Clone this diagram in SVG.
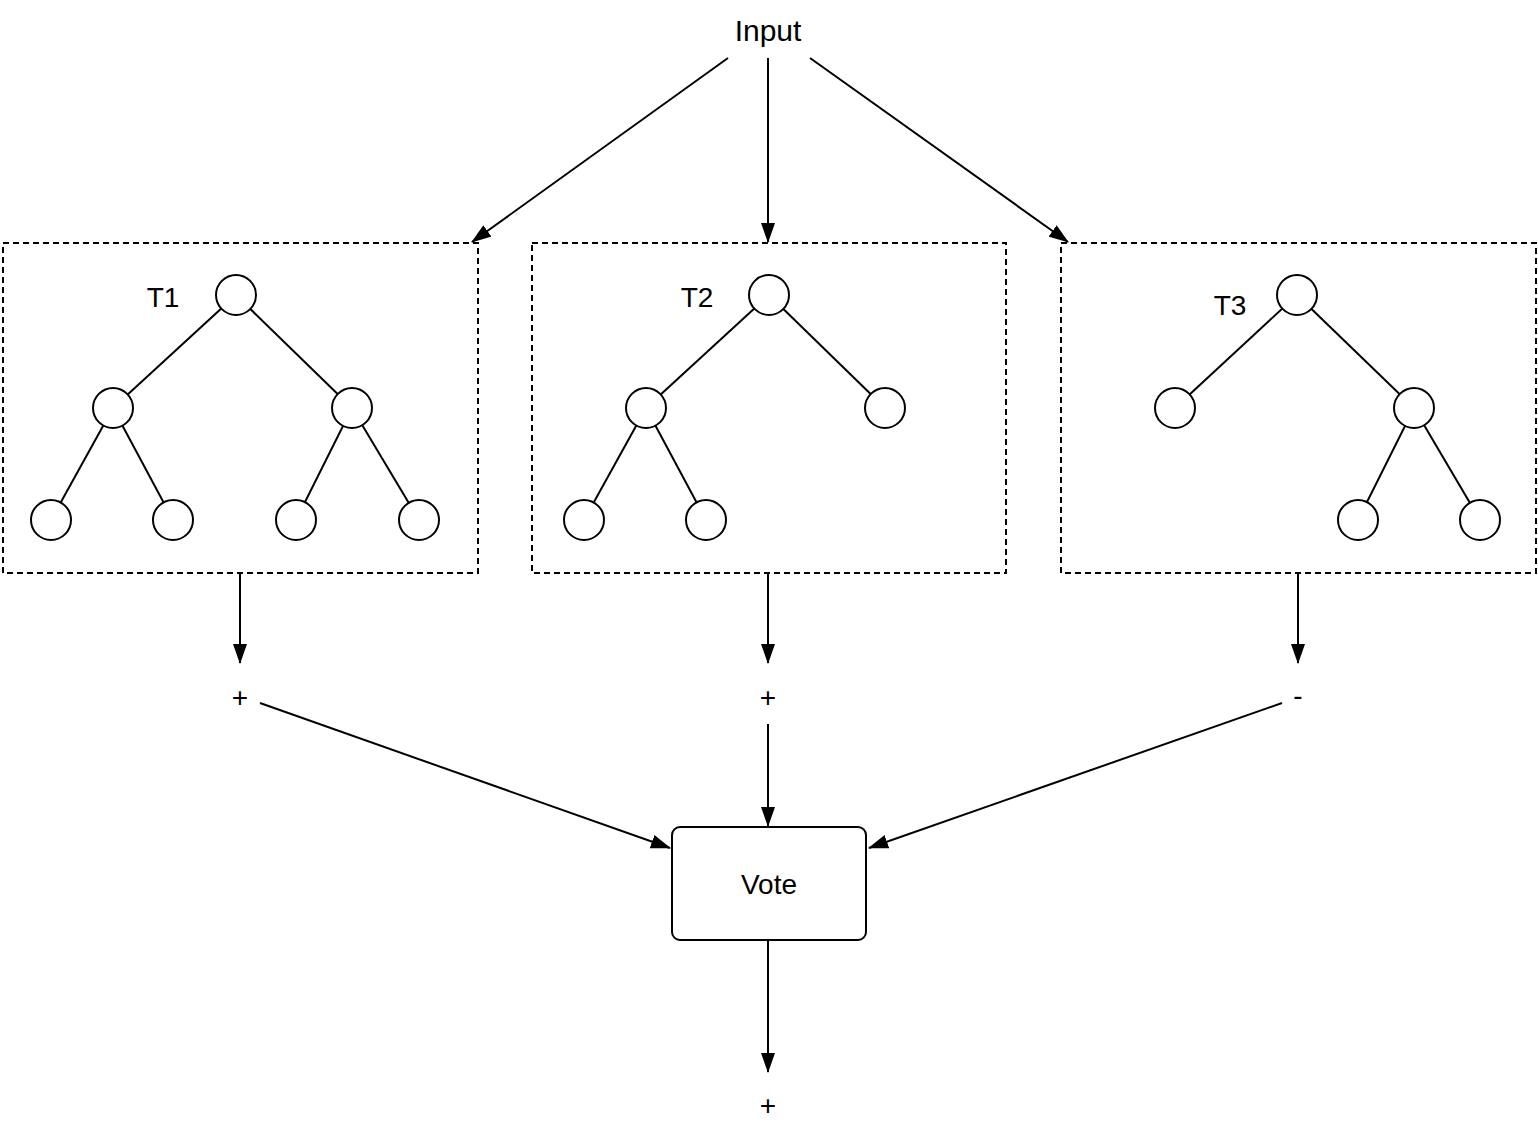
<svg xmlns="http://www.w3.org/2000/svg" width="1538" height="1134" viewBox="0 0 1538 1134">
<style>
text{font-family:"Helvetica","Liberation Sans",Arial,sans-serif;fill:#000;text-anchor:middle}
.c{fill:#fff;stroke:#000;stroke-width:2}
.e{stroke:#000;stroke-width:2}
.box{fill:none;stroke:#000;stroke-width:2;stroke-dasharray:6,4}
.a{stroke:#000;stroke-width:2;fill:none;marker-end:url(#ah)}
</style>
<defs><marker id="ah" markerWidth="10" markerHeight="10" refX="9" refY="5" orient="auto" markerUnits="userSpaceOnUse" viewBox="0 0 10 10"><path d="M0,0 L10,5 L0,10 z" fill="#000"/></marker>
<marker id="ah2" markerWidth="20" markerHeight="14" refX="19" refY="7" orient="auto" markerUnits="userSpaceOnUse" viewBox="0 0 20 14"><path d="M0,0 L20,7 L0,14 z" fill="#000"/></marker></defs>
<rect width="1538" height="1134" fill="#fff"/>
<g id="input"><text x="768" y="41" font-size="30">Input</text></g>
<g id="t1"><rect class="box" x="3" y="243" width="475" height="330"/>
<text x="163" y="307" font-size="28">T1</text>
<line class="e" x1="236" y1="295" x2="113" y2="408"/><line class="e" x1="236" y1="295" x2="352" y2="408"/>
<line class="e" x1="113" y1="408" x2="51" y2="520"/><line class="e" x1="113" y1="408" x2="173" y2="520"/>
<line class="e" x1="352" y1="408" x2="296" y2="520"/><line class="e" x1="352" y1="408" x2="419" y2="520"/>
<circle class="c" cx="236" cy="295" r="20"/><circle class="c" cx="113" cy="408" r="20"/><circle class="c" cx="352" cy="408" r="20"/>
<circle class="c" cx="51" cy="520" r="20"/><circle class="c" cx="173" cy="520" r="20"/><circle class="c" cx="296" cy="520" r="20"/><circle class="c" cx="419" cy="520" r="20"/></g>
<g id="t2"><rect class="box" x="532" y="243" width="474" height="330"/>
<text x="697" y="307" font-size="28">T2</text>
<line class="e" x1="769" y1="295" x2="646" y2="408"/><line class="e" x1="769" y1="295" x2="885" y2="408"/>
<line class="e" x1="646" y1="408" x2="584" y2="520"/><line class="e" x1="646" y1="408" x2="706" y2="520"/>
<circle class="c" cx="769" cy="295" r="20"/><circle class="c" cx="646" cy="408" r="20"/><circle class="c" cx="885" cy="408" r="20"/>
<circle class="c" cx="584" cy="520" r="20"/><circle class="c" cx="706" cy="520" r="20"/></g>
<g id="t3"><rect class="box" x="1061" y="243" width="475" height="330"/>
<line class="e" x1="1297" y1="295" x2="1175" y2="408"/><line class="e" x1="1297" y1="295" x2="1414" y2="408"/>
<line class="e" x1="1414" y1="408" x2="1358" y2="520"/><line class="e" x1="1414" y1="408" x2="1480" y2="520"/>
<text x="1230" y="315" font-size="28" stroke="#fff" stroke-width="6" paint-order="stroke">T3</text>
<circle class="c" cx="1297" cy="295" r="20"/><circle class="c" cx="1175" cy="408" r="20"/><circle class="c" cx="1414" cy="408" r="20"/>
<circle class="c" cx="1358" cy="520" r="20"/><circle class="c" cx="1480" cy="520" r="20"/></g>
<g id="vote"><rect x="672" y="827" width="194" height="113" rx="8" fill="#fff" stroke="#000" stroke-width="2"/>
<text x="769" y="894" font-size="28">Vote</text></g>
<g id="labels" font-size="28">
<text x="240" y="707" font-size="28">+</text><text x="768" y="707" font-size="28">+</text><text x="1298" y="705" font-size="28">-</text><text x="768" y="1115" font-size="28">+</text></g>
<g id="connectors">
<line class="e" x1="728" y1="58" x2="472" y2="242" marker-end="url(#ah2)"/>
<line class="e" x1="768" y1="58" x2="768" y2="242" marker-end="url(#ah2)"/>
<line class="e" x1="810" y1="58" x2="1068" y2="242" marker-end="url(#ah2)"/>
<line class="e" x1="240" y1="573" x2="240" y2="663" marker-end="url(#ah2)"/>
<line class="e" x1="768" y1="573" x2="768" y2="663" marker-end="url(#ah2)"/>
<line class="e" x1="1298" y1="573" x2="1298" y2="663" marker-end="url(#ah2)"/>
<line class="e" x1="260" y1="703" x2="670" y2="848" marker-end="url(#ah2)"/>
<line class="e" x1="768" y1="724" x2="768" y2="826" marker-end="url(#ah2)"/>
<line class="e" x1="1282" y1="703" x2="869" y2="848" marker-end="url(#ah2)"/>
<line class="e" x1="768" y1="940" x2="768" y2="1072" marker-end="url(#ah2)"/>
</g>
</svg>
